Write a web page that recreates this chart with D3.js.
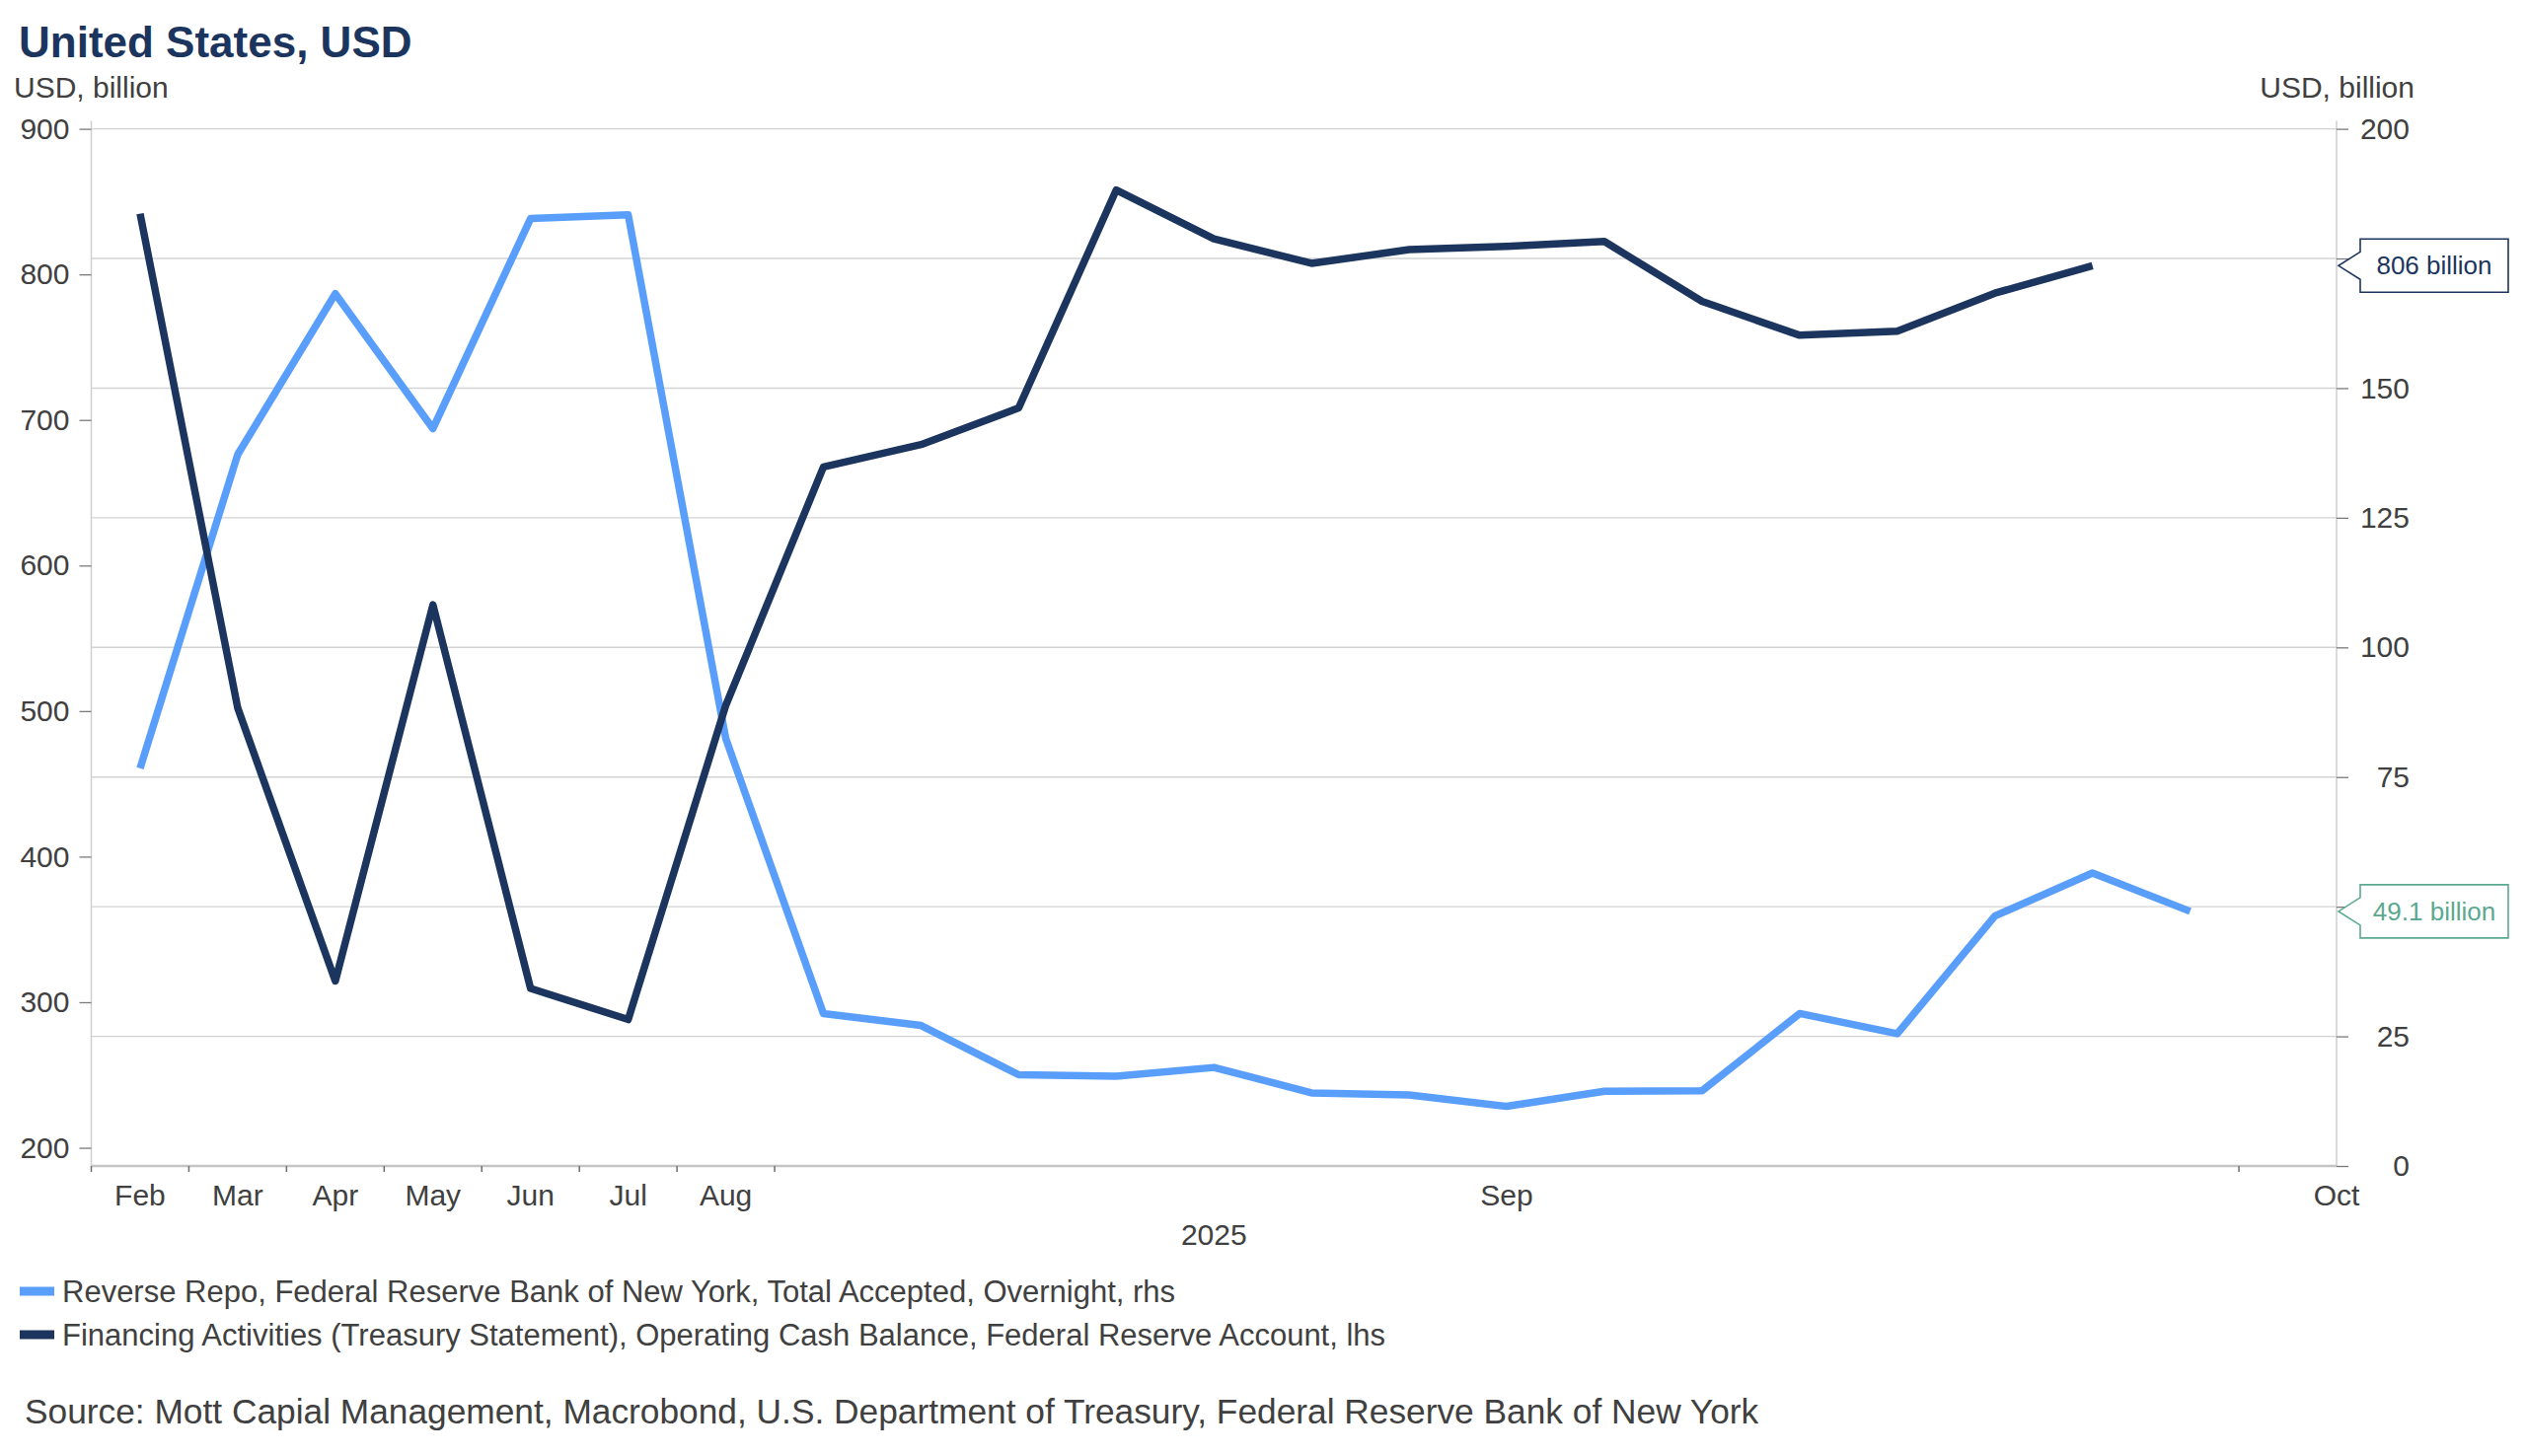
<!DOCTYPE html>
<html><head><meta charset="utf-8">
<script src="https://cdn.jsdelivr.net/npm/d3@7"></script>
<style>
html,body{margin:0;padding:0;background:#fff;}
svg{display:block;font-family:"Liberation Sans",Arial,sans-serif;}
</style></head>
<body>
<svg id="chart" width="2560" height="1476"></svg>
<script>
// ---- data ----
const categories = ["P01","P02","P03","P04","P05","P06","P07","P08","P09","P10","P11","P12",
  "P13","P14","P15","P16","P17","P18","P19","P20","P21","P22","P23"];
const tickLabels = ["Feb","Mar","Apr","May","Jun","Jul","Aug","","","","","","","","Sep","","","","","","","",""];
const endLabel = "Oct";
const yearLabel = "2025";
const yearLabelIndex = 11;
const tickBoundaries = [0,1,2,3,4,5,6,7,22];
// Reverse Repo (rhs), USD billion
const reverseRepo = [76.7,137.2,168.2,142.2,182.7,183.4,82.4,29.4,27.1,17.6,17.3,19.0,
  14.1,13.7,11.5,14.4,14.5,29.4,25.5,48.2,56.5,49.1];
// Treasury General Account operating cash balance (lhs), USD billion
const cashBalance = [841.7,502.2,314.6,573.0,309.5,288.1,504.0,667.7,683.1,708.3,858.0,824.4,
  807.6,817.0,819.3,822.6,781.5,758.2,761.0,787.1,806.0];
const leftTicks = [200,300,400,500,600,700,800,900];
const rightTicks = [0,25,50,75,100,125,150,175,200];
const rightTickLabelsShown = [0,25,75,100,125,150,200]; // 50 and 175 are covered by the callouts
const seriesNames = [
  "Reverse Repo, Federal Reserve Bank of New York, Total Accepted, Overnight, rhs",
  "Financing Activities (Treasury Statement), Operating Cash Balance, Federal Reserve Account, lhs"
];
const annotations = ["806 billion","49.1 billion"];

// ---- layout ----
const svg = d3.select("#chart");
const X0 = 92.5, X1 = 2368, Y0 = 130.6, Y1 = 1182;
const navy = "#1c355e", blue = "#5a9efc", teal = "#5aa990", grey = "#404040";

const x = d3.scaleBand().domain(categories).range([X0, X1]).padding(0);
const xc = i => x(categories[i]) + x.bandwidth()/2;
const yL = d3.scaleLinear().domain([187.5, 900]).range([Y1, Y0]);
const yR = d3.scaleLinear().domain([0, 200]).range([Y1, Y0]);

// gridlines (right axis)
svg.append("g").selectAll("line").data(rightTicks.filter(d => d > 0)).join("line")
  .attr("x1", X0).attr("x2", X1).attr("y1", d => yR(d)).attr("y2", d => yR(d))
  .attr("stroke", "#d3d3d3").attr("stroke-width", 1.4);

// axis lines
svg.append("line").attr("x1", X0).attr("x2", X0).attr("y1", Y0 - 8).attr("y2", Y1)
  .attr("stroke", "#cfcfcf").attr("stroke-width", 1.5);
svg.append("line").attr("x1", X1).attr("x2", X1).attr("y1", Y0 - 8).attr("y2", Y1)
  .attr("stroke", "#cfcfcf").attr("stroke-width", 1.5);

// left axis
const gL = svg.append("g").attr("transform", `translate(${X0},0)`)
  .call(d3.axisLeft(yL).tickValues(leftTicks).tickSize(12).tickPadding(10).tickFormat(d3.format("d")));
gL.select(".domain").remove();
gL.selectAll(".tick line").attr("stroke", "#7a7a7a").attr("stroke-width", 1.3);
gL.selectAll(".tick text").attr("fill", grey).attr("font-size", 30).attr("font-family", "Liberation Sans, Arial, sans-serif");

// right axis
const gR = svg.append("g").attr("transform", `translate(${X1},0)`)
  .call(d3.axisRight(yR).tickValues(rightTicks).tickSize(12).tickPadding(10)
    .tickFormat(d => rightTickLabelsShown.includes(d) ? d3.format("d")(d) : ""));
gR.select(".domain").remove();
gR.selectAll(".tick line").attr("stroke", "#7a7a7a").attr("stroke-width", 1.3);
gR.selectAll(".tick text").attr("fill", grey).attr("font-size", 30)
  .attr("font-family", "Liberation Sans, Arial, sans-serif")
  .attr("text-anchor", "end").attr("x", 74);
gR.selectAll(".tick text").filter(function(){ return this.textContent === ""; }).remove();

// bottom axis
svg.append("line").attr("x1", X0).attr("x2", X1).attr("y1", Y1).attr("y2", Y1)
  .attr("stroke", "#c4c4c4").attr("stroke-width", 2.5);
const boundaryX = b => b < categories.length ? x(categories[b]) : X1;
svg.append("g").selectAll("line").data(tickBoundaries).join("line")
  .attr("x1", d => boundaryX(d)).attr("x2", d => boundaryX(d))
  .attr("y1", Y1).attr("y2", Y1 + 6).attr("stroke", "#6e6e6e").attr("stroke-width", 1.5);
svg.append("g").selectAll("text").data(tickLabels.map((t,i)=>({t,i})).filter(d=>d.t)).join("text")
  .attr("x", d => xc(d.i)).attr("y", 1222).attr("text-anchor", "middle")
  .attr("font-size", 30).attr("fill", grey).text(d => d.t);
svg.append("text").attr("x", X1).attr("y", 1222).attr("text-anchor", "middle")
  .attr("font-size", 30).attr("fill", grey).text(endLabel);
svg.append("text").attr("x", xc(yearLabelIndex)).attr("y", 1262).attr("text-anchor", "middle")
  .attr("font-size", 30).attr("fill", grey).text(yearLabel);

// lines
const lineR = d3.line().x((d,i) => xc(i)).y(d => yR(d));
const lineL = d3.line().x((d,i) => xc(i)).y(d => yL(d));
svg.append("path").datum(reverseRepo).attr("d", lineR).attr("fill", "none")
  .attr("stroke", blue).attr("stroke-width", 7.5).attr("stroke-linejoin", "round");
svg.append("path").datum(cashBalance).attr("d", lineL).attr("fill", "none")
  .attr("stroke", navy).attr("stroke-width", 7.5).attr("stroke-linejoin", "round");

// annotation callouts
function callout(yTip, label, color){
  const bx = 2392, bw = 150, bh = 54, top = yTip - 27, ph = 14;
  const p = d3.path();
  p.moveTo(bx, top); p.lineTo(bx + bw, top); p.lineTo(bx + bw, top + bh); p.lineTo(bx, top + bh);
  p.lineTo(bx, yTip + ph); p.lineTo(X1 + 2, yTip); p.lineTo(bx, yTip - ph); p.closePath();
  svg.append("path").attr("d", p.toString()).attr("fill", "#fff").attr("stroke", color).attr("stroke-width", 1.6);
  svg.append("text").attr("x", bx + bw/2).attr("y", yTip + 9).attr("text-anchor", "middle")
    .attr("font-size", 26).attr("fill", color).text(label);
}
callout(yL(cashBalance[cashBalance.length-1]), annotations[0], navy);
callout(yR(reverseRepo[reverseRepo.length-1]), annotations[1], teal);

// titles
svg.append("text").attr("x", 19).attr("y", 58).attr("font-size", 44).attr("font-weight", "bold")
  .attr("fill", navy).text("United States, USD");
svg.append("text").attr("x", 14).attr("y", 99).attr("font-size", 30).attr("fill", grey).text("USD, billion");
svg.append("text").attr("x", 2447).attr("y", 99).attr("text-anchor", "end").attr("font-size", 30)
  .attr("fill", grey).text("USD, billion");

// legend
const colors = [blue, navy];
const lg = svg.append("g").selectAll("g").data(seriesNames).join("g")
  .attr("transform", (d,i) => `translate(20,${1309 + i*44})`);
lg.append("rect").attr("x", 0).attr("y", -4.5).attr("width", 35).attr("height", 9)
  .attr("fill", (d,i) => colors[i]);
lg.append("text").attr("x", 43).attr("y", 11).attr("font-size", 31).attr("fill", grey).text(d => d);

// source
svg.append("text").attr("x", 25).attr("y", 1443).attr("font-size", 35.3).attr("fill", grey)
  .text("Source: Mott Capial Management, Macrobond, U.S. Department of Treasury, Federal Reserve Bank of New York");
</script>
</body></html>
